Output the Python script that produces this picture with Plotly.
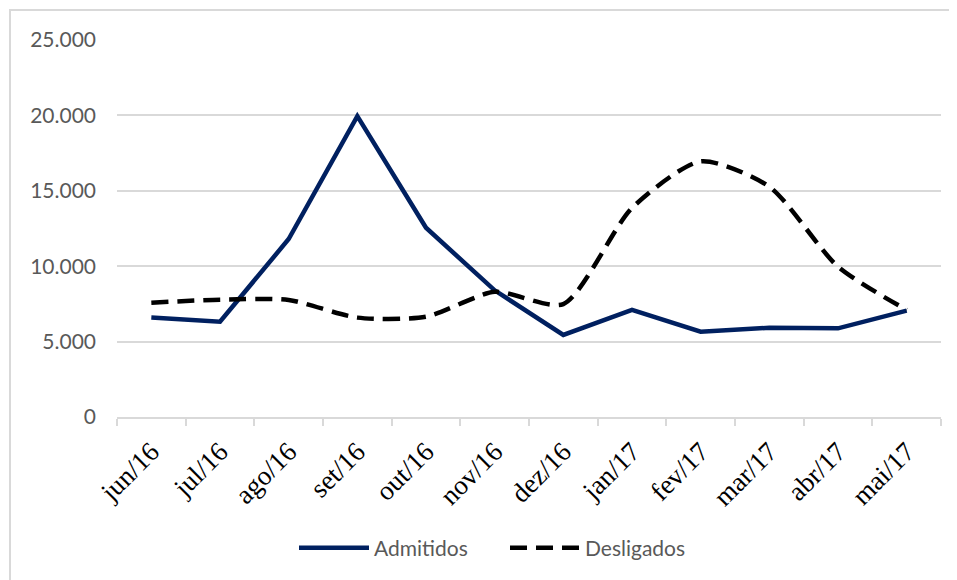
import plotly.graph_objects as go

categories = ["jun/16", "jul/16", "ago/16", "set/16", "out/16", "nov/16",
              "dez/16", "jan/17", "fev/17", "mar/17", "abr/17", "mai/17"]
admitidos = [6600, 6320, 11800, 19950, 12550, 8400, 5440, 7100, 5660, 5920, 5880, 7050]
desligados = [7580, 7780, 7760, 6590, 6650, 8300, 7490, 13860, 16950, 15270, 9970, 7100]
y_ticks = [0, 5000, 10000, 15000, 20000, 25000]

# page body has an 8px margin, so figure coords = screen coords - 8
OFF = 8
W, H = 957 - OFF, 580 - OFF
L, R, T = 117 - OFF, 16, 40 - OFF
ph = 377
B = H - T - ph
pw = W - L - R

fig = go.Figure()
fig.add_trace(go.Scatter(
    x=categories, y=admitidos, name="Admitidos", mode="lines",
    line=dict(color="#002060", width=4.5),
))
fig.add_trace(go.Scatter(
    x=categories, y=desligados, name="Desligados", mode="lines",
    line=dict(color="#000000", width=4.5, dash="17px,9px", shape="spline", smoothing=0.7),
))

# outer light frame (chart area border)
fig.add_shape(type="rect", xref="paper", yref="paper",
              x0=(10 - OFF - L) / pw, x1=1.2, y0=-0.6, y1=(T + ph - (10 - OFF)) / ph,
              line=dict(color="#D9D9D9", width=2), fillcolor="rgba(0,0,0,0)", layer="below")

fig.update_layout(
    width=W, height=H,
    margin=dict(l=L, r=R, t=T, b=B),
    paper_bgcolor="white", plot_bgcolor="white",
    separators=",.",
    showlegend=True,
    legend=dict(orientation="h", x=(294 - OFF - L) / pw, xanchor="left",
                y=(T + ph - (548 - OFF)) / ph, yanchor="middle",
                font=dict(family="Lato", size=21, color="#595959"),
                itemwidth=70, entrywidth=126, entrywidthmode="pixels",
                bgcolor="rgba(0,0,0,0)"),
    xaxis=dict(
        type="category", tickangle=-45, tickson="boundaries",
        ticks="outside", ticklen=7, tickcolor="#D9D9D9", tickwidth=2,
        showline=True, linecolor="#D9D9D9", linewidth=2,
        showgrid=False, zeroline=False,
        ticklabelstandoff=6,
        tickfont=dict(family="Liberation Serif", size=27, color="#000000"),
        range=[-0.5, 11.5],
    ),
    yaxis=dict(
        range=[0, 25000], tickvals=y_ticks, tickformat=",d",
        showgrid=True, gridcolor="#D9D9D9", gridwidth=2,
        zeroline=False, showline=False, ticks="",
        ticklabelstandoff=20,
        tickfont=dict(family="Lato", size=21, color="#595959"),
    ),
)

fig.write_html("out.html")
